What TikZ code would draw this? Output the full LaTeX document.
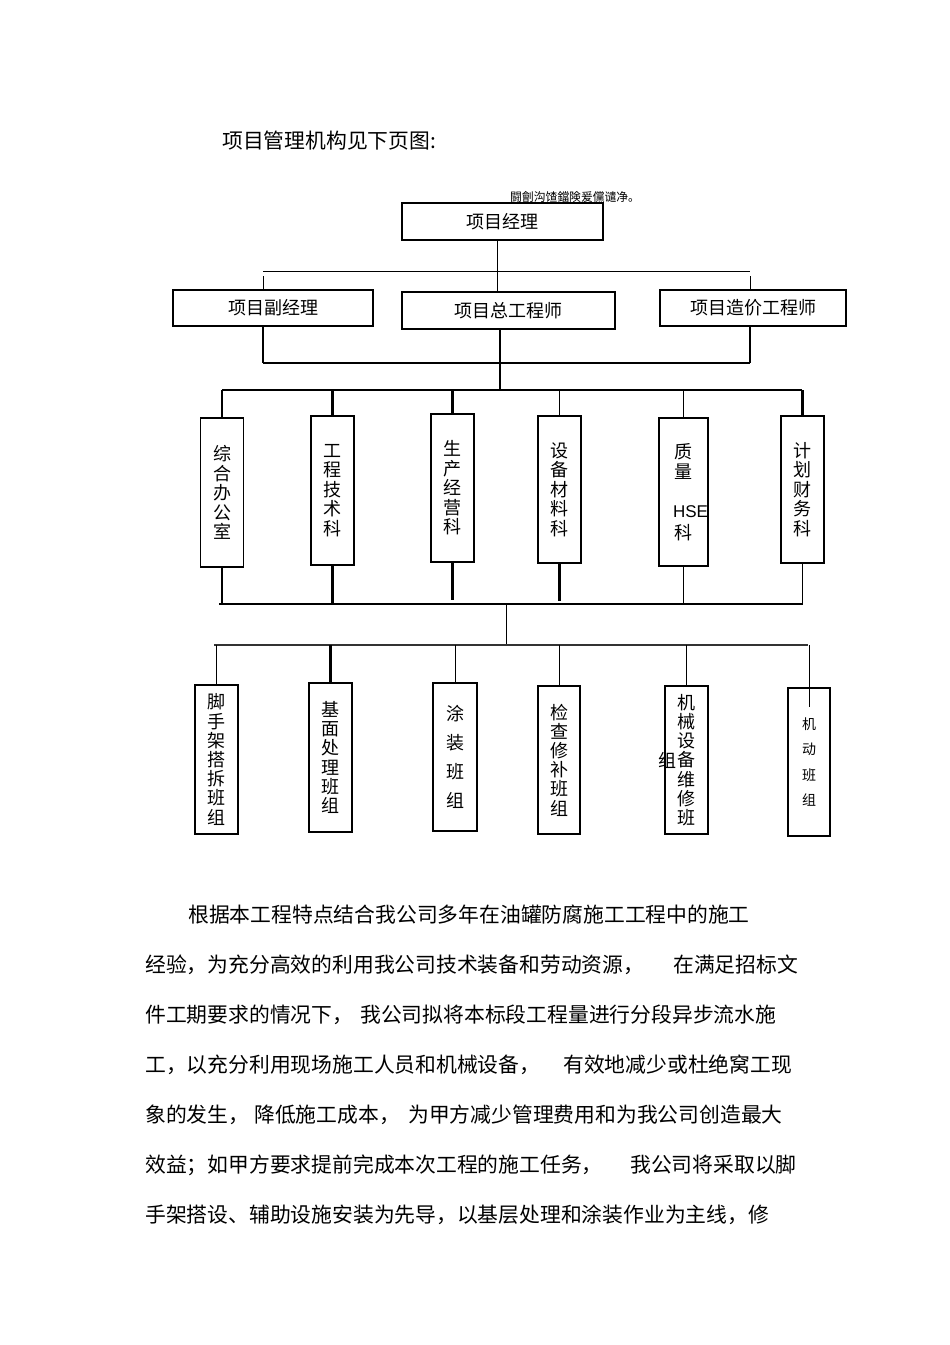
\documentclass[tikz,border=0pt]{standalone}
\usepackage{fontspec}
\setmainfont{Noto Sans CJK SC}
\newfontfamily\hsefont{Liberation Sans}
\begin{document}
\begin{tikzpicture}[x=1pt,y=-1pt,
  box/.style={draw, line width=1.3pt, inner sep=0pt, align=center},
  thickbox/.style={box, line width=2pt},
  hbox/.style={box, font=\fontsize{18}{18}\selectfont},
  vbox/.style={box, minimum width=43pt, font=\fontsize{18}{19.5}\selectfont},
  tbox/.style={box, line width=1.7pt, minimum width=43pt, font=\fontsize{18}{19.2}\selectfont},
  body/.style={anchor=west, inner sep=0pt, font=\fontsize{20.8}{20.8}\selectfont},
  thin/.style={line width=1pt},
  mid/.style={line width=1.5pt},
  heavy/.style={line width=2.2pt}
]
\fill[white] (0,0) rectangle (950,1345);
\useasboundingbox (0,0) rectangle (950,1345);

% title
\node[body] (title) at (222,141) {项目管理机构见下页图:};
\node[anchor=west, inner sep=0pt, font=\fontsize{11.8}{11.8}\selectfont] (garble) at (510,197) {闘劊沟馇鐺険爰儻谴净。};

% top level
\node[thickbox, hbox, line width=2pt, minimum width=201pt, minimum height=37pt] (mgr) at (502.5,221.5) {项目经理};
\node[hbox, line width=1.2pt, minimum width=200pt, minimum height=36pt] (dep) at (273,308) {项目副经理};
\node[hbox, line width=2pt, minimum width=213pt, minimum height=37pt] (chief) at (508.5,310.5) {项目总工程师};
\node[hbox, line width=1.2pt, minimum width=186pt, minimum height=36pt] (cost) at (753,308) {项目造价工程师};

\coordinate (j1) at (497,271);
\coordinate (hl) at (263,271);
\coordinate (hr) at (750,271);
\draw[thin] (j1 |- mgr.south) -- (j1 |- chief.north);
\draw[thin] (hl) -- (hr);
\draw[thin] ([yshift=-5pt]hl) -- (hl |- dep.north);
\draw[thin] ([yshift=-5pt]hr) -- (hr |- cost.north);

\coordinate (b1l) at (263,363);
\coordinate (b1r) at (750,363);
\coordinate (b1m) at (500,363);
\coordinate (b2m) at (500,390);
\draw[mid] (b1l |- dep.south) -- (b1l);
\draw[mid] (b1r |- cost.south) -- (b1r);
\draw[heavy] (b1l) -- (b1r);
\draw[heavy] (b1m |- chief.south) -- (b2m);

% departments
\node[vbox, minimum height=149pt] (d1) at (222,492.5) {综\\合\\办\\公\\室};
\node[vbox, minimum height=149pt] (d2) at (332.5,490.5) {工\\程\\技\\术\\科};
\node[vbox, minimum height=148pt] (d3) at (452.5,488) {生\\产\\经\\营\\科};
\node[vbox, minimum height=147pt] (d4) at (559.5,489.5) {设\\备\\材\\料\\科};
\node[vbox, minimum height=148pt] (d5) at (683.5,492) {质\\量\\[20pt]\hspace*{14pt}{\hsefont\fontsize{17}{17}\selectfont HSE}\\[2pt]科};
\node[vbox, minimum height=147pt] (d6) at (802.5,489.5) {计\\划\\财\\务\\科};

\coordinate (t2l) at (222,390);
\coordinate (t2r) at (802,390);
\draw[mid] (t2l) -- (t2r);
\draw[heavy] (d1.north |- t2l) -- (d1.north);
\draw[heavy] (d2.north |- t2l) -- (d2.north);
\draw[heavy] (d3.north |- t2l) -- (d3.north);
\draw[thin] (d4.north |- t2l) -- (d4.north);
\draw[thin] (d5.north |- t2l) -- (d5.north);
\draw[heavy] (d6.north |- t2l) -- (d6.north);

\coordinate (t3l) at (219,604);
\coordinate (t3r) at (803,604);
\coordinate (t3m) at (506,604);
\coordinate (t4m) at (506,645);
\draw[heavy] (d1.south) -- (d1.south |- t3l);
\draw[heavy] (d2.south) -- (d2.south |- t3l);
\draw[heavy] (d3.south) -- ([yshift=4pt]d3.south |- t3l);
\draw[heavy] (d4.south) -- ([yshift=3pt]d4.south |- t3l);
\draw[thin] (d5.south) -- (d5.south |- t3l);
\draw[thin] (d6.south) -- (d6.south |- t3l);
\draw[mid] (t3l) -- (t3r);
\draw[thin] (t3m) -- (t4m);

% teams
\node[tbox, minimum height=149pt] (t1) at (216.5,759.5) {脚\\手\\架\\搭\\拆\\班\\组};
\node[tbox, minimum height=149pt] (t2) at (330.5,757.5) {基\\面\\处\\理\\班\\组};
\node[tbox, minimum height=148pt, minimum width=44pt, font=\fontsize{18}{29}\selectfont] (t3) at (455,757) {涂\\装\\班\\组};
\node[tbox, minimum height=148pt, minimum width=42pt] (t4) at (559,760) {检\\查\\修\\补\\班\\组};
\node[tbox, minimum height=148pt] (t5) at (686.5,760) {机\\械\\设\\备\\维\\修\\班};
\node[inner sep=0pt, font=\fontsize{18}{18}\selectfont] (t5x) at (667,760) {组};
\node[tbox, line width=1.3pt, minimum height=148pt, minimum width=42pt, font=\fontsize{14}{25.3}\selectfont] (t6) at (809,762) {机\\动\\班\\组};

\coordinate (t4l) at (214,645);
\coordinate (t4r) at (808,645);
\draw[mid, black!80] (t4l) -- (t4r);
\draw[thin] (t1.north |- t4l) -- (t1.north);
\draw[heavy] (t2.north |- t4l) -- (t2.north);
\draw[thin] (t3.north |- t4l) -- (t3.north);
\draw[thin] (t4.north |- t4l) -- (t4.north);
\draw[thin] (t5.north |- t4l) -- (t5.north);
\draw[thin] (t6.north |- t4l) -- ([yshift=-20pt]t6.north);

% body text
\node[body] (l1) at (188,915) {根据本工程特点结合我公司多年在油罐防腐施工工程中的施工};
\node[body] (l2a) at (145,965) {经验，为充分高效的利用我公司技术装备和劳动资源，};
\node[body] (l2b) at (673,965) {在满足招标文};
\node[body] (l3a) at (145,1015) {件工期要求的情况下，};
\node[body] (l3b) at (360,1015) {我公司拟将本标段工程量进行分段异步流水施};
\node[body] (l4a) at (145,1065) {工，以充分利用现场施工人员和机械设备，};
\node[body] (l4b) at (563,1065) {有效地减少或杜绝窝工现};
\node[body] (l5a) at (145,1115) {象的发生，};
\node[body] (l5b) at (254,1115) {降低施工成本，};
\node[body] (l5c) at (408,1115) {为甲方减少管理费用和为我公司创造最大};
\node[body] (l6a) at (145,1165) {效益；如甲方要求提前完成本次工程的施工任务，};
\node[body] (l6b) at (630,1165) {我公司将采取以脚};
\node[body] (l7) at (145,1215) {手架搭设、辅助设施安装为先导，以基层处理和涂装作业为主线，修};
\end{tikzpicture}
\end{document}
